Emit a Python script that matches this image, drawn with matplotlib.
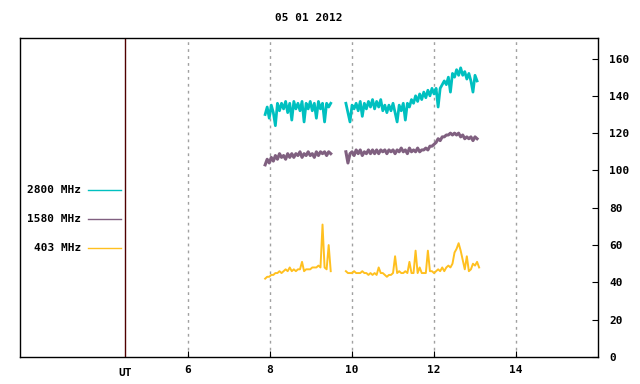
import numpy as np
import matplotlib
matplotlib.use('Agg')
import matplotlib.pyplot as plt
from matplotlib.lines import Line2D

title = '05 01 2012'
x_ticks = [6, 8, 10, 12, 14]
y_ticks = [0, 20, 40, 60, 80, 100, 120, 140, 160]
ut_pos = 4.46

# two recording segments, 0.05 h sampling
seg1_start = 7.88
seg2_start = 9.85
step = 0.05

cyan_1 = [130, 134, 128, 135, 131, 124, 136, 132, 136, 133, 137, 131, 136, 127, 137, 133, 136,
          132, 137, 126, 136, 133, 137, 132, 136, 128, 137, 133, 136, 126, 136, 134, 136]
cyan_2 = [136, 131, 126, 135, 133, 136, 132, 137, 129, 136, 133, 137, 134, 138, 133, 137, 134,
          138, 132, 135, 131, 135, 132, 136, 131, 126, 135, 132, 136, 127, 136, 134, 138, 136,
          140, 137, 141, 138, 142, 139, 143, 140, 144, 141, 144, 134, 144, 146, 148, 146, 150,
          142, 152, 150, 154, 151, 155, 151, 153, 149, 152, 148, 142, 151, 148]

purple_1 = [103, 106, 104, 107, 105, 108, 106, 109, 107, 108, 106, 109, 107, 109, 107, 109, 108,
            110, 107, 109, 108, 110, 108, 109, 107, 110, 108, 110, 109, 110, 108, 110, 109]
purple_2 = [110, 104, 109, 110, 108, 111, 109, 111, 108, 110, 109, 111, 109, 111, 109, 111, 109,
            111, 110, 111, 109, 111, 110, 111, 109, 111, 110, 112, 110, 111, 109, 112, 110, 111,
            110, 112, 110, 111, 111, 112, 111, 113, 113, 114, 115, 117, 116, 118, 118, 119, 119,
            120, 119, 120, 119, 120, 118, 119, 117, 118, 117, 118, 116, 118, 117]

yellow_1 = [42, 43, 43, 44, 44, 45, 45, 46, 45, 46, 47, 46, 48, 46, 47, 46, 47, 47, 51, 46, 47,
            47, 47, 48, 48, 48, 49, 48, 71, 48, 47, 60, 46]
yellow_2 = [46, 45, 45, 45, 46, 45, 45, 45, 46, 45, 45, 44, 45, 44, 45, 44, 48, 45, 45, 44, 43,
            44, 44, 45, 54, 45, 46, 45, 45, 46, 45, 51, 45, 45, 57, 45, 48, 45, 45, 45, 57, 46,
            46, 45, 46, 47, 46, 48, 46, 48, 49, 48, 50, 56, 58, 61, 57, 52, 47, 54, 46, 47, 50,
            49, 51, 48]

series = [
    ('2800 MHz', cyan_1, cyan_2, '#00c0c0', 2.0),
    ('1580 MHz', purple_1, purple_2, '#806080', 2.2),
    ('403 MHz', yellow_1, yellow_2, '#ffc020', 1.4),
]

plt.rcParams['font.family'] = 'DejaVu Sans Mono'
plt.rcParams['font.size'] = 8
plt.rcParams['font.weight'] = 'bold'

fig = plt.figure(figsize=(6.4, 3.84), dpi=100)
ax = fig.add_axes([20 / 640, 27 / 384, 578 / 640, 319 / 384])

for name, a, b, col, lw in series:
    t1 = seg1_start + step * np.arange(len(a))
    t2 = seg2_start + step * np.arange(len(b))
    ax.plot(t1, a, color=col, lw=lw)
    ax.plot(t2, b, color=col, lw=lw)

ax.axvline(ut_pos, color='#500000', lw=1)
for xt in x_ticks:
    ax.axvline(xt, color='#a0a0a0', lw=1, ls=(0, (2, 3)), zorder=0)

ax.set_xlim(1.9, 16.0)
ax.set_ylim(0, 171)
ax.set_xticks(x_ticks)
ax.set_xticklabels([str(v) for v in x_ticks])
ax.yaxis.tick_right()
ax.set_yticks(y_ticks)
ax.tick_params(axis='y', direction='in', length=4, pad=8, right=True, left=False)
ax.tick_params(axis='x', direction='in', length=4, pad=6)
for s in ax.spines.values():
    s.set_color('black')
    s.set_linewidth(1)

ax.text(ut_pos, -6, 'UT', ha='center', va='top', transform=ax.transData)
fig.text(309 / 640, 1 - 18 / 384, title, ha='center', va='center')

# manual legend on the left
leg_y = [190, 219, 248]
for (name, a, b, col, lw), yy in zip(series, leg_y):
    fy = 1 - yy / 384
    fig.text(81 / 640, fy, name, ha='right', va='center')
    fig.add_artist(Line2D([88 / 640, 121 / 640], [fy, fy], color=col, lw=1))

fig.savefig('out.png', dpi=100)
